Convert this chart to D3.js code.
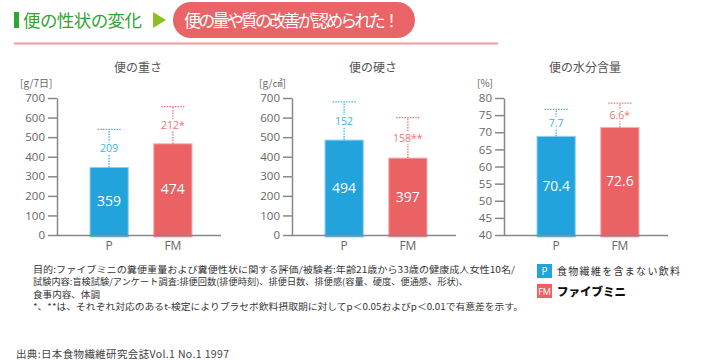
<!DOCTYPE html>
<html>
<head>
<meta charset="utf-8">
<script src="https://cdn.jsdelivr.net/npm/d3@7"></script>
<style>
    body { margin: 0; background: #fff; }
    svg { display: block; font-family: "Noto Sans CJK JP", "Noto Sans", sans-serif; }
</style>
</head>
<body>
<svg id="chart" width="710" height="360"></svg>
<script>
const categories = ['P', 'FM'];

// bar tops and error tops, labels as printed
const weightMean = [345, 466];
const weightTop = [540, 656];
const weightLabels = ['359', '474'];
const weightSdLabels = ['209', '212*'];
const weightTicks = [0, 100, 200, 300, 400, 500, 600, 700];

const hardMean = [485, 393];
const hardTop = [680, 600];
const hardLabels = ['494', '397'];
const hardSdLabels = ['152', '158**'];
const hardTicks = [0, 100, 200, 300, 400, 500, 600, 700];

const waterMean = [68.8, 71.4];
const waterTop = [76.7, 78.5];
const waterLabels = ['70.4', '72.6'];
const waterSdLabels = ['7.7', '6.6*'];
const waterTicks = [40, 45, 50, 55, 60, 65, 70, 75, 80];

const footnotes = [
    '目的:ファイブミニの糞便重量および糞便性状に関する評価/被験者:年齢21歳から33歳の健康成人女性10名/',
    '試験内容:盲検試験/アンケート調査:排便回数(排便時刻)、排便日数、排便感(容量、硬度、便通感、形状)、',
    '食事内容、体調',
    '*、**は、それぞれ対応のあるt-検定によりプラセボ飲料摂取期に対してp＜0.05およびp＜0.01で有意差を示す。'
];

(function () {
    'use strict';

    const svg = d3.select('#chart');
    const barColors = ['#22a3dc', '#ea6264'];
    const barEdge = ['#8fd0ee', '#f5b0b0'];
    const errColors = ['#3ab4e6', '#f07272'];
    const top = 98, bottom = 235;
    // printed widths of the note lines in the original layout
    const noteWidths = [482, 435, 67, 490];

    drawHeader();

    drawPanel({ axisX: 57, title: '便の重さ', unit: '[g/7日]', unitX: 20,
        domain: [0, 700], ticks: weightTicks,
        mean: weightMean, errTop: weightTop, labels: weightLabels, sdLabels: weightSdLabels });
    drawPanel({ axisX: 292, title: '便の硬さ', unit: '[g/㎠]', unitX: 259,
        domain: [0, 700], ticks: hardTicks,
        mean: hardMean, errTop: hardTop, labels: hardLabels, sdLabels: hardSdLabels });
    drawPanel({ axisX: 504, title: '便の水分含量', unit: '[%]', unitX: 477,
        domain: [40, 80], ticks: waterTicks,
        mean: waterMean, errTop: waterTop, labels: waterLabels, sdLabels: waterSdLabels });

    drawNotes();
    drawLegend();

    function drawHeader() {
        svg.append('rect')
            .attr('x', 14).attr('y', 12).attr('width', 5).attr('height', 16)
            .attr('fill', '#2ea535');
        svg.append('text')
            .attr('x', 23).attr('y', 26.5)
            .attr('font-size', 17.5)
            .attr('fill', '#2ea535')
            .attr('textLength', 119)
            .text('便の性状の変化');
        svg.append('path')
            .attr('d', 'M153,12 L166,20 L153,28 Z')
            .attr('fill', '#8cc21f');
        svg.append('rect')
            .attr('x', 173).attr('y', 2).attr('width', 242).attr('height', 36)
            .attr('rx', 18)
            .attr('fill', '#e96466');
        svg.append('text')
            .attr('x', 184).attr('y', 26.5)
            .attr('font-size', 17)
            .attr('fill', '#fff')
            .attr('textLength', 216)
            .text('便の量や質の改善が認められた！');
        svg.append('line')
            .attr('x1', 14).attr('x2', 498)
            .attr('y1', 43.5).attr('y2', 43.5)
            .attr('stroke', '#f29b9b')
            .attr('stroke-width', 2);
    }

    function drawPanel(p) {
        const g = svg.append('g');
        const xScale = d3.scaleBand()
            .domain(categories)
            .range([p.axisX + 33, p.axisX + 135])
            .paddingInner(0.4);
        const yScale = d3.scaleLinear()
            .domain(p.domain)
            .range([bottom, top]);

        g.append('text')
            .attr('x', p.axisX + 81).attr('y', 72)
            .attr('text-anchor', 'middle')
            .attr('font-size', 12)
            .attr('fill', '#555')
            .text(p.title);
        g.append('text')
            .attr('x', p.unitX).attr('y', 86.5)
            .attr('font-size', 10)
            .attr('fill', '#666')
            .text(p.unit);

        const yAxis = d3.axisLeft(yScale)
            .tickValues(p.ticks)
            .tickSize(9)
            .tickPadding(3)
            .tickSizeOuter(0);
        const ya = g.append('g')
            .attr('transform', `translate(${p.axisX}, 0)`)
            .call(yAxis);
        ya.selectAll('text').attr('font-size', 11.5).attr('fill', '#666').attr('font-family', 'Open Sans, sans-serif');
        ya.selectAll('line, path').attr('stroke', '#888').attr('stroke-width', 1.5);

        // bars
        g.selectAll('rect.bar')
            .data(categories)
            .enter().append('rect')
            .attr('class', 'bar')
            .attr('x', d => xScale(d))
            .attr('width', xScale.bandwidth())
            .attr('y', (d, i) => yScale(p.mean[i]))
            .attr('height', (d, i) => bottom + 2 - yScale(p.mean[i]))
            .attr('fill', (d, i) => barColors[i])
            .attr('stroke', (d, i) => barEdge[i])
            .attr('stroke-width', 1);

        const xa = g.append('g')
            .attr('transform', `translate(0, ${bottom})`)
            .call(d3.axisBottom(xScale).tickSize(0).tickPadding(6));
        xa.select('.domain')
            .attr('d', `M${p.axisX},0.5H${p.axisX + 164}`)
            .attr('stroke', '#888').attr('stroke-width', 1.5);
        xa.selectAll('text').attr('font-size', 12).attr('fill', '#666').attr('font-family', 'Open Sans, sans-serif');

        // dotted error bars
        categories.forEach((c, i) => {
            const cx = xScale(c) + xScale.bandwidth() / 2;
            const y1 = yScale(p.mean[i]);
            const y2 = yScale(p.errTop[i]);
            g.append('line')
                .attr('x1', cx).attr('x2', cx)
                .attr('y1', y1).attr('y2', y2)
                .attr('stroke', errColors[i]).attr('stroke-width', 1.3)
                .attr('stroke-dasharray', '1.5,1.2');
            g.append('line')
                .attr('x1', cx - 11.5).attr('x2', cx + 11.5)
                .attr('y1', y2).attr('y2', y2)
                .attr('stroke', errColors[i]).attr('stroke-width', 1.3)
                .attr('stroke-dasharray', '1.5,1.2');

            const lab = g.append('text')
                .attr('x', cx).attr('y', (y1 + y2) / 2 + 4)
                .attr('text-anchor', 'middle')
                .attr('font-size', 10.5)
                .attr('font-family', 'Open Sans, sans-serif')
                .attr('fill', errColors[i])
                .text(p.sdLabels[i]);
            const bb = lab.node().getBBox();
            g.insert('rect', () => lab.node())
                .attr('x', bb.x - 1).attr('y', bb.y + 1)
                .attr('width', bb.width + 2).attr('height', bb.height - 2)
                .attr('fill', '#fff');

            g.append('text')
                .attr('x', cx).attr('y', (y1 + bottom) / 2 + 5)
                .attr('text-anchor', 'middle')
                .attr('font-size', 14)
                .attr('font-family', 'Open Sans, sans-serif')
                .attr('fill', '#fff')
                .text(p.labels[i]);
        });
    }

    function drawNotes() {
        svg.append('g').selectAll('text')
            .data(footnotes)
            .enter().append('text')
            .attr('x', 33)
            .attr('y', (d, i) => 272.5 + i * 12.6)
            .attr('font-size', 8.7)
            .attr('fill', '#333')
            .attr('textLength', (d, i) => noteWidths[i])
            .attr('lengthAdjust', 'spacingAndGlyphs')
            .text(d => d);
        svg.append('text')
            .attr('x', 16).attr('y', 358)
            .attr('font-size', 10.5)
            .attr('fill', '#444')
            .attr('textLength', 213)
            .text('出典:日本食物繊維研究会誌Vol.1 No.1 1997');
    }

    function drawLegend() {
        const items = [
            { key: 'P', text: '食物繊維を含まない飲料', y: 264 },
            { key: 'FM', text: 'ファイブミニ', y: 284 }
        ];
        const lg = svg.append('g');
        items.forEach((it, i) => {
            lg.append('rect')
                .attr('x', 537).attr('y', it.y)
                .attr('width', 15).attr('height', 14)
                .attr('fill', barColors[i]);
            lg.append('text')
                .attr('x', 544.5).attr('y', it.y + 11)
                .attr('text-anchor', 'middle')
                .attr('font-size', it.key === 'P' ? 10 : 9)
                .attr('fill', '#fff')
                .attr('font-family', 'Open Sans, sans-serif')
                .text(it.key);
        });
        lg.append('text')
            .attr('x', 557).attr('y', 275)
            .attr('font-size', 10)
            .attr('letter-spacing', 1.3)
            .attr('fill', '#333')
            .text(items[0].text);
        lg.append('text')
            .attr('x', 557).attr('y', 296)
            .attr('font-size', 11.5)
            .attr('font-weight', 900)
            .attr('fill', '#111')
            .text(items[1].text);
    }
})();
</script>
</body>
</html>
